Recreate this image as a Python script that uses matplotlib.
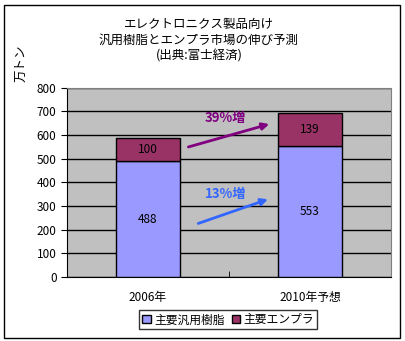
import numpy as np
import matplotlib.pyplot as plt
from matplotlib.patches import Rectangle

plt.rcParams['font.family'] = ['Noto Sans CJK JP', 'DejaVu Sans']

categories = ["2006年", "2010年予想"]
general = [488, 553]      # 主要汎用樹脂
engpla = [100, 139]       # 主要エンプラ
series_names = ["主要汎用樹脂", "主要エンプラ"]
title = "エレクトロニクス製品向け\n汎用樹脂とエンプラ市場の伸び予測\n(出典:富士経済)"

fig = plt.figure(figsize=(4.06, 3.41), dpi=100)
ax = fig.add_axes([0.165, 0.188, 0.798, 0.555])

x = np.arange(len(categories))
w = 0.4
b1 = ax.bar(x, general, width=w, color="#9999FF", edgecolor="black", linewidth=1, zorder=3,
            label=series_names[0])
b2 = ax.bar(x, engpla, width=w, bottom=general, color="#993366", edgecolor="black", linewidth=1,
            zorder=3, label=series_names[1])

for i in range(len(categories)):
    ax.text(x[i], general[i] / 2, str(general[i]), ha="center", va="center", fontsize=8.5, zorder=4)
    ax.text(x[i], general[i] + engpla[i] / 2, str(engpla[i]), ha="center", va="center",
            fontsize=8.5, zorder=4)

# growth arrows
ax.annotate("", xy=(0.765, 649), xytext=(0.233, 546),
            arrowprops=dict(arrowstyle="-|>", color="#800080", lw=2, mutation_scale=10), zorder=5)
ax.annotate("", xy=(0.757, 332), xytext=(0.294, 222),
            arrowprops=dict(arrowstyle="-|>", color="#3366FF", lw=2, mutation_scale=10), zorder=5)
g_eng = round((engpla[1] / engpla[0] - 1) * 100)
g_gen = round((general[1] / general[0] - 1) * 100)
ax.text(0.48, 672, f"{g_eng}%増", color="#800080", fontsize=9.5, fontweight="bold",
        ha="center", va="center", zorder=5)
ax.text(0.48, 350, f"{g_gen}%増", color="#3366FF", fontsize=9.5, fontweight="bold",
        ha="center", va="center", zorder=5)

ax.set_facecolor("#C0C0C0")
ax.set_xlim(-0.5, 1.5)
ax.set_ylim(0, 800)
ax.set_yticks(np.arange(0, 801, 100))
ax.yaxis.grid(True, color="black", linewidth=1, zorder=1)
ax.set_axisbelow(True)
ax.set_xticks(x)
ax.set_xticklabels(categories, fontsize=8.5)
ax.set_xticks([0.5], minor=True)
ax.tick_params(axis="x", which="major", length=0, pad=10)
ax.tick_params(axis="x", which="minor", length=4, direction="in", color="black")
ax.tick_params(axis="y", labelsize=8.5, length=4, direction="out")
for s in ["top", "right"]:
    ax.spines[s].set_color("#808080")
ax.spines["left"].set_color("black")
ax.spines["bottom"].set_color("black")

fig.text(0.49, 0.948, title, ha="center", va="top", fontsize=9, linespacing=1.3)
fig.text(0.052, 0.815, "万トン", rotation=90, ha="center", va="center", fontsize=9)

leg = fig.legend(handles=[b1, b2], loc="center", bbox_to_anchor=(0.562, 0.062), ncol=2,
                 fontsize=8.5, frameon=True, fancybox=False, edgecolor="black",
                 handlelength=0.7, handleheight=0.7, handletextpad=0.3, columnspacing=0.6,
                 borderpad=0.25)
leg.get_frame().set_linewidth(1)

fig.patches.append(Rectangle((0.01, 0.008), 0.975, 0.978, transform=fig.transFigure,
                             fill=False, edgecolor="black", linewidth=1))

plt.savefig("out.png", dpi=100)
